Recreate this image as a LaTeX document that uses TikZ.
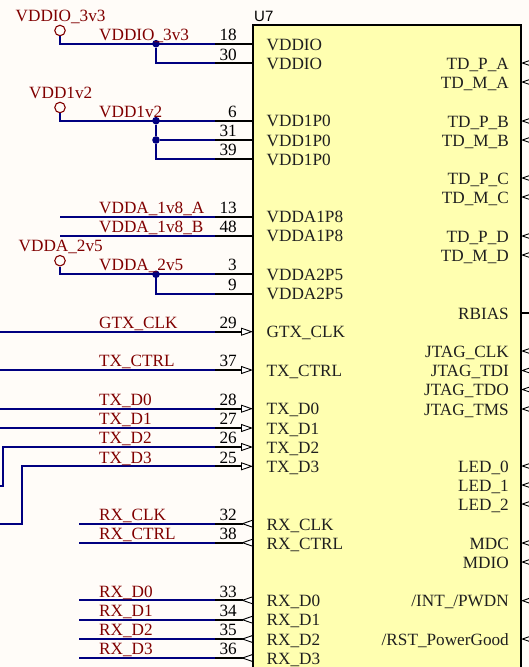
\documentclass[tikz,border=0pt]{standalone}
\usepackage{fontspec}
\setmainfont{Liberation Serif}
\newfontfamily\refsans{Liberation Sans}
\usetikzlibrary{arrows.meta}
\definecolor{wireblue}{HTML}{000080}
\definecolor{netred}{HTML}{800000}
\definecolor{chipfill}{HTML}{FFFFB0}
\definecolor{sheetbg}{HTML}{FFFCF8}
\tikzset{
  wire/.style={draw=wireblue, line width=1.8pt},
  pin/.style={draw=black, line width=1.8pt},
  pinin/.style={pin, -{Triangle[open, length=12pt, width=8pt, line width=.9pt, fill=white]}},
  pinout/.style={pin, -{Triangle[open, reversed, length=12pt, width=8pt, line width=.9pt, fill=white]}},
  pinext/.style={pin, {Triangle[open, length=12pt, width=8pt, line width=.9pt]}-},
  txt/.style={inner sep=0pt, font=\fontsize{17.2}{20}\selectfont},
  pinname/.style={txt, anchor=base west, text=black!88},
  pinnameb/.style={txt, anchor=base east, text=black!88},
  pinnum/.style={txt, anchor=base east, text=black},
  netlabel/.style={txt, anchor=base west, text=netred},
  port/.style={circle, draw=netred, line width=1.1pt, fill=sheetbg, minimum size=10.5pt, inner sep=0pt},
  junction/.style={circle, fill=wireblue, minimum size=7.6pt, inner sep=0pt}
}
\begin{document}
\begin{tikzpicture}[x=1pt, y=-1pt]
      \useasboundingbox (0, 0) rectangle (529, 667);
      \fill [sheetbg] (0, 0) rectangle (529, 667);
      \draw [fill=chipfill, line width=2.2pt] (253, 25) rectangle (521, 690);
      \node (refdes) [txt, anchor=base west, font=\refsans\fontsize{15}{18}\selectfont] at (254, 21) {U7};
      % left pins, wire side and chip side
      \path (215, 43.7) coordinate (a18) (253, 43.7) coordinate (b18)
            (215, 63) coordinate (a30) (253, 63) coordinate (b30)
            (215, 120.7) coordinate (a6) (253, 120.7) coordinate (b6)
            (215, 140) coordinate (a31) (253, 140) coordinate (b31)
            (215, 159) coordinate (a39) (253, 159) coordinate (b39)
            (215, 216.7) coordinate (a13) (253, 216.7) coordinate (b13)
            (215, 235.7) coordinate (a48) (253, 235.7) coordinate (b48)
            (215, 274.3) coordinate (a3) (253, 274.3) coordinate (b3)
            (215, 293.7) coordinate (a9) (253, 293.7) coordinate (b9)
            (215, 331.7) coordinate (a29) (253, 331.7) coordinate (b29)
            (215, 370) coordinate (a37) (253, 370) coordinate (b37)
            (215, 408.7) coordinate (a28) (253, 408.7) coordinate (b28)
            (215, 428) coordinate (a27) (253, 428) coordinate (b27)
            (215, 447) coordinate (a26) (253, 447) coordinate (b26)
            (215, 466.3) coordinate (a25) (253, 466.3) coordinate (b25)
            (215, 523.7) coordinate (a32) (253, 523.7) coordinate (b32)
            (215, 542.7) coordinate (a38) (253, 542.7) coordinate (b38)
            (215, 600.3) coordinate (a33) (253, 600.3) coordinate (b33)
            (215, 619.7) coordinate (a34) (253, 619.7) coordinate (b34)
            (215, 639) coordinate (a35) (253, 639) coordinate (b35)
            (215, 658) coordinate (a36) (253, 658) coordinate (b36);
      % free wire ends
      \path (60, 216.7) coordinate (l13) (60, 235.7) coordinate (l48)
            (0, 331.7) coordinate (l29) (0, 370) coordinate (l37)
            (0, 408.7) coordinate (l28) (0, 428) coordinate (l27)
            (0, 485.7) coordinate (l26) (3, 485.7) coordinate (c26)
            (0, 524) coordinate (l25) (22, 524) coordinate (c25)
            (79, 523.7) coordinate (l32) (79, 542.7) coordinate (l38)
            (79, 600.3) coordinate (l33) (79, 619.7) coordinate (l34)
            (79, 639) coordinate (l35) (79, 658) coordinate (l36);
      % right pins, chip side and sheet side
      \path (521, 63) coordinate (tpa) (540, 63) coordinate (tpae)
            (521, 82) coordinate (tma) (540, 82) coordinate (tmae)
            (521, 121) coordinate (tpb) (540, 121) coordinate (tpbe)
            (521, 140) coordinate (tmb) (540, 140) coordinate (tmbe)
            (521, 178) coordinate (tpc) (540, 178) coordinate (tpce)
            (521, 197) coordinate (tmc) (540, 197) coordinate (tmce)
            (521, 236) coordinate (tpd) (540, 236) coordinate (tpde)
            (521, 255) coordinate (tmd) (540, 255) coordinate (tmde)
            (521, 313) coordinate (rbi) (540, 313) coordinate (rbie)
            (521, 351) coordinate (jck) (540, 351) coordinate (jcke)
            (521, 370.5) coordinate (jdi) (540, 370.5) coordinate (jdie)
            (521, 389.5) coordinate (jdo) (540, 389.5) coordinate (jdoe)
            (521, 409) coordinate (jms) (540, 409) coordinate (jmse)
            (521, 466) coordinate (led0) (540, 466) coordinate (led0e)
            (521, 485) coordinate (led1) (540, 485) coordinate (led1e)
            (521, 504) coordinate (led2) (540, 504) coordinate (led2e)
            (521, 543) coordinate (mdc) (540, 543) coordinate (mdce)
            (521, 562) coordinate (mdi) (540, 562) coordinate (mdie)
            (521, 600.7) coordinate (int) (540, 600.7) coordinate (inte)
            (521, 639) coordinate (rst) (540, 639) coordinate (rste);
      \node (pvddio) [port] at (60, 30.5) {};
      \node (pvdd) [port] at (60, 107.5) {};
      \node (pvdda) [port] at (60, 260.7) {};
      \node (j18) [junction] at (156, 43.7) {};
      \node (j6) [junction] at (156, 120.7) {};
      \node (j31) [junction] at (156, 140) {};
      \node (j3) [junction] at (156, 274.3) {};
      % nets
      \draw [wire] (pvddio) |- (a18)
                   (j18) |- (a30)
                   (pvdd) |- (a6)
                   (j6) -- (j31)
                   (j31) -- (a31)
                   (j31) |- (a39)
                   (l13) -- (a13)
                   (l48) -- (a48)
                   (pvdda) |- (a3)
                   (j3) |- (a9)
                   (l29) -- (a29)
                   (l37) -- (a37)
                   (l28) -- (a28)
                   (l27) -- (a27)
                   (l26) -- (c26) |- (a26)
                   (l25) -- (c25) |- (a25)
                   (l32) -- (a32)
                   (l38) -- (a38)
                   (l33) -- (a33)
                   (l34) -- (a34)
                   (l35) -- (a35)
                   (l36) -- (a36);
      % pins
      \draw [pin] (a18) -- (b18) (a30) -- (b30) (a6) -- (b6) (a31) -- (b31) (a39) -- (b39)
                  (a13) -- (b13) (a48) -- (b48) (a3) -- (b3) (a9) -- (b9) (rbi) -- (rbie);
      \draw [pinin] (a29) -- (b29);
      \draw [pinin] (a37) -- (b37);
      \draw [pinin] (a28) -- (b28);
      \draw [pinin] (a27) -- (b27);
      \draw [pinin] (a26) -- (b26);
      \draw [pinin] (a25) -- (b25);
      \draw [pinout] (a32) -- (b32);
      \draw [pinout] (a38) -- (b38);
      \draw [pinout] (a33) -- (b33);
      \draw [pinout] (a34) -- (b34);
      \draw [pinout] (a35) -- (b35);
      \draw [pinout] (a36) -- (b36);
      \draw [pinext] (tpa) -- (tpae);
      \draw [pinext] (tma) -- (tmae);
      \draw [pinext] (tpb) -- (tpbe);
      \draw [pinext] (tmb) -- (tmbe);
      \draw [pinext] (tpc) -- (tpce);
      \draw [pinext] (tmc) -- (tmce);
      \draw [pinext] (tpd) -- (tpde);
      \draw [pinext] (tmd) -- (tmde);
      \draw [pinext] (jck) -- (jcke);
      \draw [pinext] (jdi) -- (jdie);
      \draw [pinext] (jdo) -- (jdoe);
      \draw [pinext] (jms) -- (jmse);
      \draw [pinext] (led0) -- (led0e);
      \draw [pinext] (led1) -- (led1e);
      \draw [pinext] (led2) -- (led2e);
      \draw [pinext] (mdc) -- (mdce);
      \draw [pinext] (mdi) -- (mdie);
      \draw [pinext] (int) -- (inte);
      \draw [pinext] (rst) -- (rste);
      % port names and net names
      \path (15.5, 21) node (tvddio) [netlabel] {VDDIO\_3v3}
            (29, 98) node (tvdd) [netlabel] {VDD1v2}
            (18.5, 251) node (tvdda) [netlabel] {VDDA\_2v5}
            (99, 40) node (n18) [netlabel] {VDDIO\_3v3}
            (99, 117) node (n6) [netlabel] {VDD1v2}
            (99, 213) node (n13) [netlabel] {VDDA\_1v8\_A}
            (99, 232) node (n48) [netlabel] {VDDA\_1v8\_B}
            (99, 270.5) node (n3) [netlabel] {VDDA\_2v5}
            (99, 328) node (n29) [netlabel] {GTX\_CLK}
            (99, 366.5) node (n37) [netlabel] {TX\_CTRL}
            (99, 405) node (n28) [netlabel] {TX\_D0}
            (99, 424) node (n27) [netlabel] {TX\_D1}
            (99, 443) node (n26) [netlabel] {TX\_D2}
            (99, 463) node (n25) [netlabel] {TX\_D3}
            (99, 520) node (n32) [netlabel] {RX\_CLK}
            (99, 539) node (n38) [netlabel] {RX\_CTRL}
            (99, 597) node (n33) [netlabel] {RX\_D0}
            (99, 616) node (n34) [netlabel] {RX\_D1}
            (99, 635) node (n35) [netlabel] {RX\_D2}
            (99, 654.5) node (n36) [netlabel] {RX\_D3};
      % pin numbers
      \path (237, 40) node (u18) [pinnum] {18}
            (237, 60) node (u30) [pinnum] {30}
            (237, 117) node (u6) [pinnum] {6}
            (237, 136) node (u31) [pinnum] {31}
            (237, 155.5) node (u39) [pinnum] {39}
            (237, 213) node (u13) [pinnum] {13}
            (237, 232) node (u48) [pinnum] {48}
            (237, 270.5) node (u3) [pinnum] {3}
            (237, 290) node (u9) [pinnum] {9}
            (237, 328) node (u29) [pinnum] {29}
            (237, 366.5) node (u37) [pinnum] {37}
            (237, 405) node (u28) [pinnum] {28}
            (237, 424) node (u27) [pinnum] {27}
            (237, 443) node (u26) [pinnum] {26}
            (237, 463) node (u25) [pinnum] {25}
            (237, 520) node (u32) [pinnum] {32}
            (237, 539) node (u38) [pinnum] {38}
            (237, 597) node (u33) [pinnum] {33}
            (237, 616) node (u34) [pinnum] {34}
            (237, 635) node (u35) [pinnum] {35}
            (237, 654.5) node (u36) [pinnum] {36};
      % pin names inside the chip
      \path (266.5, 50) node (s18) [pinname] {VDDIO}
            (266.5, 69) node (s30) [pinname] {VDDIO}
            (266.5, 126.5) node (s6) [pinname] {VDD1P0}
            (266.5, 146) node (s31) [pinname] {VDD1P0}
            (266.5, 165) node (s39) [pinname] {VDD1P0}
            (266.5, 222.5) node (s13) [pinname] {VDDA1P8}
            (266.5, 241.5) node (s48) [pinname] {VDDA1P8}
            (266.5, 280) node (s3) [pinname] {VDDA2P5}
            (266.5, 299.5) node (s9) [pinname] {VDDA2P5}
            (266.5, 337.5) node (s29) [pinname] {GTX\_CLK}
            (266.5, 376) node (s37) [pinname] {TX\_CTRL}
            (266.5, 414.5) node (s28) [pinname] {TX\_D0}
            (266.5, 434) node (s27) [pinname] {TX\_D1}
            (266.5, 453) node (s26) [pinname] {TX\_D2}
            (266.5, 472) node (s25) [pinname] {TX\_D3}
            (266.5, 530) node (s32) [pinname] {RX\_CLK}
            (266.5, 549) node (s38) [pinname] {RX\_CTRL}
            (266.5, 606) node (s33) [pinname] {RX\_D0}
            (266.5, 625.5) node (s34) [pinname] {RX\_D1}
            (266.5, 645) node (s35) [pinname] {RX\_D2}
            (266.5, 664) node (s36) [pinname] {RX\_D3};
      \path (509, 69) node (rtpa) [pinnameb] {TD\_P\_A}
            (509, 88) node (rtma) [pinnameb] {TD\_M\_A}
            (509, 127) node (rtpb) [pinnameb] {TD\_P\_B}
            (509, 146) node (rtmb) [pinnameb] {TD\_M\_B}
            (509, 184) node (rtpc) [pinnameb] {TD\_P\_C}
            (509, 203) node (rtmc) [pinnameb] {TD\_M\_C}
            (509, 242) node (rtpd) [pinnameb] {TD\_P\_D}
            (509, 261) node (rtmd) [pinnameb] {TD\_M\_D}
            (509, 319) node (rrbi) [pinnameb] {RBIAS}
            (509, 357) node (rjck) [pinnameb] {JTAG\_CLK}
            (509, 376.5) node (rjdi) [pinnameb] {JTAG\_TDI}
            (509, 395.5) node (rjdo) [pinnameb] {JTAG\_TDO}
            (509, 415) node (rjms) [pinnameb] {JTAG\_TMS}
            (509, 472) node (rled0) [pinnameb] {LED\_0}
            (509, 491) node (rled1) [pinnameb] {LED\_1}
            (509, 510) node (rled2) [pinnameb] {LED\_2}
            (509, 549) node (rmdc) [pinnameb] {MDC}
            (509, 568) node (rmdi) [pinnameb] {MDIO}
            (509, 606.5) node (rint) [pinnameb] {/INT\_/PWDN}
            (509, 645) node (rrst) [pinnameb] {/RST\_PowerGood};
\end{tikzpicture}
\end{document}
